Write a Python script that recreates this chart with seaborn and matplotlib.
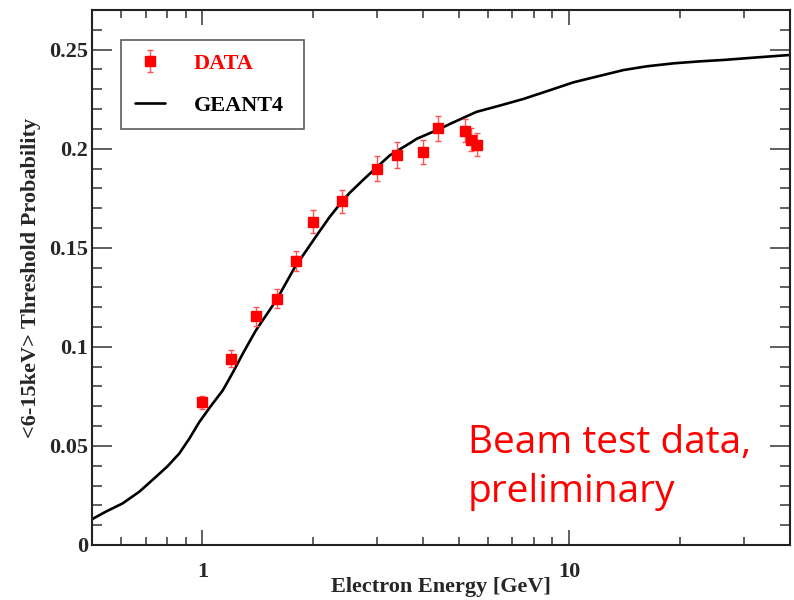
import matplotlib
matplotlib.use("Agg")
import matplotlib.pyplot as plt
import matplotlib.ticker as mticker
import seaborn as sns
import pandas as pd

# ---- data ----
energy = [1.0, 1.2, 1.4, 1.6, 1.8, 2.0, 2.4, 3.0, 3.4, 4.0, 4.4, 5.2, 5.4, 5.6]
prob = [0.0720, 0.0940, 0.1154, 0.1243, 0.1434, 0.1632, 0.1734, 0.1900, 0.1970,
        0.1982, 0.2102, 0.2090, 0.2046, 0.2020]
prob_err = [0.0032, 0.0044, 0.0047, 0.0049, 0.0050, 0.0057, 0.0060, 0.0062, 0.0066,
            0.0060, 0.0065, 0.0058, 0.0058, 0.0058]

g4_energy = [0.5, 0.545, 0.606, 0.673, 0.747, 0.804, 0.865, 0.922, 0.981, 1.056,
             1.137, 1.21, 1.289, 1.359, 1.40, 1.59, 1.784, 2.045, 2.22, 2.393,
             2.52, 2.77, 3.24, 3.68, 3.84, 4.44, 4.73, 5.59,
             6.48, 7.5, 8.69, 10.27, 12.2, 14.07, 16.3, 19.3, 22.8, 26.4, 32.6, 40.0]
g4_prob = [0.0130, 0.0168, 0.0210, 0.0269, 0.0344, 0.0398, 0.0462, 0.0538, 0.0621,
           0.0703, 0.0781, 0.0870, 0.0966, 0.1042, 0.1084, 0.1235, 0.1400, 0.1560,
           0.1654, 0.1730, 0.1777, 0.1850, 0.1966, 0.2028, 0.2050, 0.2100,
           0.2125, 0.2186, 0.2218, 0.2251, 0.2290, 0.2335, 0.2369,
           0.2397, 0.2416, 0.2431, 0.2441, 0.2448, 0.2461, 0.2473]

y_ticks = [0.0, 0.05, 0.10, 0.15, 0.20, 0.25]
y_tick_labels = ["0", "0.05", "0.1", "0.15", "0.2", "0.25"]
x_ticks = [1, 10]
x_tick_labels = ["1", "10"]

sns.set_style("ticks")
plt.rcParams["font.family"] = ["Liberation Serif", "DejaVu Serif"]

fig = plt.figure(figsize=(7.94, 6.0), dpi=100)
ax = fig.add_axes([92 / 794, 1 - 545 / 600, 698 / 794, 535 / 600])

g4 = pd.DataFrame({"E": g4_energy, "P": g4_prob})
sns.lineplot(data=g4, x="E", y="P", color="black", linewidth=1.9, ax=ax,
             label="GEANT4", legend=False, sort=True)

eb = ax.errorbar(energy, prob, yerr=prob_err, fmt="s", color="#ff0000",
                 markersize=7, ecolor="#ff5555", elinewidth=1.0, capsize=2.5,
                 capthick=1.0, label="DATA", zorder=3)

ax.set_xscale("log")
ax.set_xlim(0.5, 40)
ax.set_ylim(0, 0.27)

ax.set_xticks(x_ticks)
ax.set_xticklabels(x_tick_labels)
ax.xaxis.set_minor_locator(mticker.LogLocator(base=10, subs=[2, 3, 4, 5, 6, 7, 8, 9, 1], numticks=20))
ax.xaxis.set_minor_formatter(mticker.NullFormatter())
ax.set_yticks(y_ticks)
ax.set_yticklabels(y_tick_labels)
ax.yaxis.set_minor_locator(mticker.MultipleLocator(0.01))

ax.tick_params(axis="x", which="major", direction="in", length=11, width=1.2,
               top=True, bottom=True, pad=12, labelsize=16, color="#444444")
ax.tick_params(axis="x", which="minor", direction="in", length=5.5, width=1.2,
               top=True, bottom=True, color="#444444")
ax.tick_params(axis="y", which="major", direction="in", length=14.5, width=1.2,
               left=True, right=True, pad=3, labelsize=16, color="#444444")
ax.tick_params(axis="y", which="minor", direction="in", length=7, width=1.2,
               left=True, right=True, color="#444444")
for lbl in ax.get_xticklabels() + ax.get_yticklabels():
    lbl.set_fontweight("bold")

for s in ax.spines.values():
    s.set_linewidth(1.5)
    s.set_color("#222222")
    s.set_visible(True)

ax.set_xlabel("Electron Energy [GeV]", fontsize=16, fontweight="bold")
ax.set_ylabel("<6-15keV> Threshold Probability", fontsize=16, fontweight="bold")
ax.xaxis.set_label_coords(0.5, -0.060)
ax.yaxis.set_label_coords(-0.073, 0.5)

handles = [eb, ax.get_lines()[0]]
leg = ax.legend(handles, ["DATA", "GEANT4"], loc="lower left",
                bbox_to_anchor=(0.042, 0.7776, 0.262, 0.172), mode="expand",
                fontsize=16, frameon=True, fancybox=False, borderpad=0.6,
                handlelength=1.35, handletextpad=1.3, labelspacing=0.95,
                borderaxespad=0)
leg.get_frame().set_edgecolor("#333333")
leg.get_frame().set_linewidth(1.2)
for t, c in zip(leg.get_texts(), ["#ff0000", "black"]):
    t.set_color(c)
    t.set_fontweight("bold")

fig.text(468 / 794, 1 - 453 / 600, "Beam test data,", color="#ff0000",
         fontsize=28, fontweight="normal", family=["Open Sans", "DejaVu Sans"],
         ha="left", va="baseline")
fig.text(468 / 794, 1 - 502 / 600, "preliminary", color="#ff0000",
         fontsize=28, fontweight="normal", family=["Open Sans", "DejaVu Sans"],
         ha="left", va="baseline")

fig.savefig("out.png", dpi=100)
